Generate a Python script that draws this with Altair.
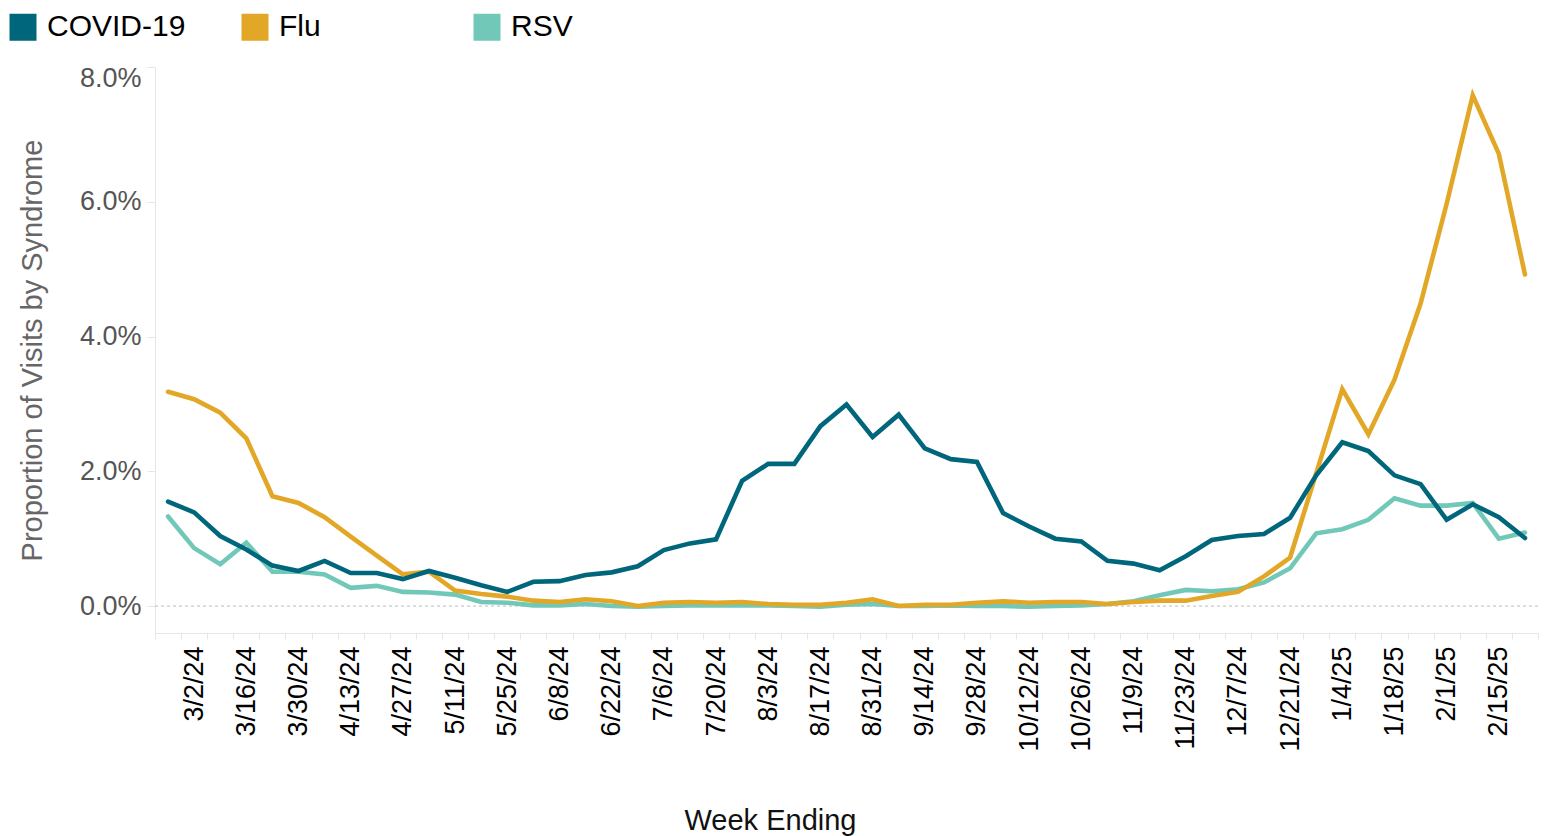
import json
import altair as alt
import pandas as pd

weeks = ["2/24/24", "3/2/24", "3/9/24", "3/16/24", "3/23/24", "3/30/24", "4/6/24", "4/13/24",
         "4/20/24", "4/27/24", "5/4/24", "5/11/24", "5/18/24", "5/25/24", "6/1/24", "6/8/24",
         "6/15/24", "6/22/24", "6/29/24", "7/6/24", "7/13/24", "7/20/24", "7/27/24", "8/3/24",
         "8/10/24", "8/17/24", "8/24/24", "8/31/24", "9/7/24", "9/14/24", "9/21/24", "9/28/24",
         "10/5/24", "10/12/24", "10/19/24", "10/26/24", "11/2/24", "11/9/24", "11/16/24",
         "11/23/24", "11/30/24", "12/7/24", "12/14/24", "12/21/24", "12/28/24", "1/4/25",
         "1/11/25", "1/18/25", "1/25/25", "2/1/25", "2/8/25", "2/15/25", "2/22/25"]

tick_labels = ["3/2/24", "3/16/24", "3/30/24", "4/13/24", "4/27/24", "5/11/24", "5/25/24",
               "6/8/24", "6/22/24", "7/6/24", "7/20/24", "8/3/24", "8/17/24", "8/31/24",
               "9/14/24", "9/28/24", "10/12/24", "10/26/24", "11/9/24", "11/23/24", "12/7/24",
               "12/21/24", "1/4/25", "1/18/25", "2/1/25", "2/15/25"]

# percent of visits
covid = [1.55, 1.39, 1.04, 0.84, 0.60, 0.52, 0.67, 0.49, 0.49, 0.40, 0.52, 0.42, 0.31, 0.21,
         0.36, 0.37, 0.46, 0.50, 0.59, 0.83, 0.93, 0.99, 1.86, 2.11, 2.11, 2.67, 2.99, 2.51,
         2.84, 2.34, 2.18, 2.14, 1.38, 1.18, 1.00, 0.96, 0.67, 0.63, 0.53, 0.74, 0.98, 1.04,
         1.07, 1.31, 1.94, 2.43, 2.30, 1.94, 1.81, 1.28, 1.51, 1.32, 1.01]
flu = [3.18, 3.07, 2.87, 2.49, 1.63, 1.53, 1.32, 1.03, 0.75, 0.47, 0.51, 0.23, 0.18, 0.14,
       0.08, 0.06, 0.10, 0.07, 0.00, 0.05, 0.06, 0.05, 0.06, 0.03, 0.02, 0.02, 0.05, 0.10,
       0.00, 0.02, 0.02, 0.05, 0.07, 0.05, 0.06, 0.06, 0.03, 0.06, 0.08, 0.08, 0.15, 0.21,
       0.44, 0.72, 1.97, 3.22, 2.55, 3.36, 4.49, 5.97, 7.58, 6.71, 4.92]
rsv = [1.33, 0.86, 0.62, 0.94, 0.51, 0.51, 0.47, 0.27, 0.30, 0.21, 0.20, 0.17, 0.06, 0.05,
       0.01, 0.01, 0.03, 0.00, -0.01, 0.00, 0.01, 0.01, 0.01, 0.01, 0.00, -0.01, 0.02, 0.03,
       0.00, 0.00, 0.01, 0.00, 0.00, -0.01, 0.00, 0.01, 0.03, 0.07, 0.16, 0.24, 0.22, 0.25,
       0.35, 0.56, 1.08, 1.14, 1.28, 1.60, 1.49, 1.49, 1.53, 1.00, 1.09]

series = ["COVID-19", "Flu", "RSV"]
colors = ["#00667C", "#E2A726", "#72C8B8"]
y_ticks = [0.0, 0.02, 0.04, 0.06, 0.08]

rows = []
for name, vals in zip(series, [covid, flu, rsv]):
    for w, v in zip(weeks, vals):
        rows.append({"week": w, "syndrome": name, "value": v / 100})
df = pd.DataFrame(rows)

FONT = "Liberation Sans"

color_enc = alt.Color(
    "syndrome:N",
    scale=alt.Scale(domain=series, range=colors),
    legend=alt.Legend(
        title=None, orient="none", legendX=-147, legendY=-55,
        direction="horizontal", columns=3, gridAlign="all", columnPadding=31,
        symbolType="square", symbolSize=121, symbolStrokeWidth=16,
        labelFontSize=30, labelFont=FONT, labelColor="#000", labelOffset=9,
        labelLimit=0, symbolOpacity=1,
    ),
)

label_expr = "indexof(" + json.dumps(tick_labels) + ", datum.value) >= 0 ? datum.value : ''"

x_enc = alt.X(
    "week:O", sort=weeks, bandPosition=0.5,
    scale=alt.Scale(type="band", paddingInner=0, paddingOuter=0),
    axis=alt.Axis(
        title="Week Ending", labelExpr=label_expr, labelAngle=270, labelFontSize=27,
        labelColor="#000", labelFont=FONT, labelPadding=7, tickBand="extent",
        tickColor="#e6e6e6", tickSize=6, domainColor="#e6e6e6", labelOverlap=False,
        titleFontSize=29, titleFont=FONT, titleFontWeight="normal", titleColor="#111",
        titlePadding=55, titleX=615, titleAlign="center", grid=False,
    ),
)

y_enc = alt.Y(
    "value:Q",
    scale=alt.Scale(domain=[-0.004, 0.08], nice=False, zero=False),
    axis=alt.Axis(
        title="Proportion of Visits by Syndrome", values=y_ticks, format=".1%",
        labelFontSize=27, labelColor="#555", labelFont=FONT, labelPadding=6,
        labelFlush=True, labelFlushOffset=2,
        tickSize=8, tickColor="#e6e6e6", domainColor="#e6e6e6", grid=False,
        titleFontSize=29, titleFont=FONT, titleFontWeight="normal", titleColor="#666",
        titlePadding=32,
    ),
)

base = alt.Chart(df)

zero_rule = alt.Chart(pd.DataFrame({"value": [0.0]})).mark_rule(
    color="#bbbbbb", strokeDash=[3, 3], strokeWidth=1
).encode(y=alt.Y("value:Q"))

layers = [zero_rule]
for name in ["RSV", "Flu", "COVID-19"]:
    layers.append(
        base.transform_filter(alt.datum.syndrome == name)
        .mark_line(strokeWidth=4.6, strokeCap="round")
        .encode(x=x_enc, y=y_enc, color=color_enc)
    )

chart = alt.layer(*layers).properties(
    width=1383, height=566,
    padding={"top": 4, "left": 0, "right": 0, "bottom": 0},
    background="white",
).configure_view(stroke=None)

chart.save("out.html", embed_options={"renderer": "svg", "actions": False})
